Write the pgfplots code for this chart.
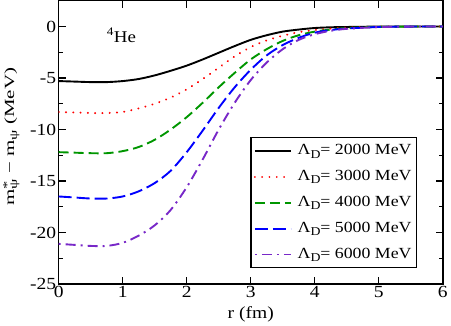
\documentclass[border=0pt]{standalone}
\usepackage{fontspec}
\setmainfont{Liberation Serif}[FakeStretch=1.15]
\newfontfamily\ylabfont{Liberation Serif}[FakeStretch=1.5]
\usepackage{pgfplots}
\pgfplotsset{compat=1.18}

\definecolor{gracegreen}{RGB}{0,150,0}
\definecolor{gracepurple}{RGB}{120,40,200}

% curves, r (fm) vs m*-m (MeV)
\pgfplotstableread{
r     l2000  l3000  l4000  l5000  l6000
0.00  -5.30  -8.30  -12.20 -16.50 -21.10
0.25  -5.35  -8.35  -12.25 -16.60 -21.20
0.50  -5.40  -8.40  -12.30 -16.70 -21.30
0.75  -5.40  -8.40  -12.30 -16.70 -21.30
1.00  -5.30  -8.30  -12.10 -16.50 -21.00
1.25  -5.10  -7.95  -11.70 -16.00 -20.30
1.50  -4.75  -7.50  -11.00 -15.20 -19.30
1.75  -4.30  -6.90  -10.00 -14.00 -17.80
2.00  -3.80  -6.10  -8.80  -12.20 -15.60
2.25  -3.20  -5.10  -7.40  -10.10 -12.90
2.50  -2.55  -4.00  -5.90  -7.90  -10.00
2.75  -1.90  -2.90  -4.50  -5.90  -7.40
3.00  -1.30  -2.00  -3.20  -4.20  -5.20
3.25  -0.85  -1.35  -2.20  -2.80  -3.50
3.50  -0.50  -0.90  -1.40  -1.80  -2.20
3.75  -0.30  -0.55  -0.85  -1.10  -1.30
4.00  -0.15  -0.35  -0.50  -0.60  -0.75
4.25  -0.08  -0.20  -0.30  -0.35  -0.42
4.50  -0.05  -0.10  -0.15  -0.20  -0.23
5.00  -0.01  -0.02  -0.04  -0.05  -0.06
5.50   0.00  -0.01  -0.01  -0.01  -0.01
6.00   0.00   0.00   0.00   0.00   0.00
}\curves

\newcommand{\LD}{Λ\raisebox{-0.45ex}{\fontsize{12}{12}\selectfont D}}

\begin{document}
\begin{tikzpicture}
\begin{axis}[
    scale only axis,
    width=385pt, height=284pt,
    xmin=0, xmax=6,
    ymin=-25, ymax=2.5,
    xtick={0,1,2,3,4,5,6},
    ytick={-25,-20,-15,-10,-5,0},
    yticklabels={-25,-20,-15,-10,-5,0},
    minor ytick={-22.5,-17.5,-12.5,-7.5,-2.5},
    tick align=inside,
    major tick length=7pt,
    minor tick length=4pt,
    tick style={black, line width=1.2pt},
    axis line style={line width=1.4pt},
    /pgf/number format/assume math mode=true,
    tick label style={font=\fontsize{17}{17}\selectfont},
    xticklabel style={yshift=1pt},
    yticklabel style={xshift=1pt},
    xlabel={r (fm)},
    ylabel={\ylabfont m\rlap{\raisebox{0.55ex}{\fontsize{11}{11}\selectfont *}}\raisebox{-0.5ex}{\fontsize{11}{11}\selectfont ψ} − m\raisebox{-0.5ex}{\fontsize{11}{11}\selectfont ψ} (MeV)},
    xlabel style={font=\fontsize{17}{17}\selectfont, at={(axis description cs:0.5,-0.106)}, anchor=center},
    ylabel style={font=\fontsize{14}{14}\selectfont, at={(axis description cs:-0.123,0.52)}, anchor=center},
    legend style={at={(axis description cs:0.499,0.518)}, anchor=north west,
        draw=black, line width=1.2pt, font=\fontsize{15.5}{15.5}\selectfont,
        nodes={inner xsep=2pt, inner ysep=1pt, text height=12pt, text depth=4pt},
        row sep=8pt, column sep=4pt, inner xsep=3pt, inner ysep=4pt},
    legend cell align=left,
    legend image code/.code={\draw[#1, line width=1.8pt] (0pt,0pt) -- (36pt,0pt);},
]
\addplot[black, line width=1.9pt, smooth] table[x=r, y=l2000] {\curves};
\addlegendentry{\LD= 2000 MeV}
\addplot[red, line width=2.1pt, smooth, dash pattern=on 0.1pt off 7.2pt, line cap=round] table[x=r, y=l3000] {\curves};
\addlegendentry{\LD= 3000 MeV}
\addplot[gracegreen, line width=1.9pt, smooth, dash pattern=on 10pt off 5pt] table[x=r, y=l4000] {\curves};
\addlegendentry{\LD= 4000 MeV}
\addplot[blue, line width=1.9pt, smooth, dash pattern=on 13pt off 5pt] table[x=r, y=l5000] {\curves};
\addlegendentry{\LD= 5000 MeV}
\addplot[gracepurple, line width=1.9pt, smooth, dash pattern=on 2pt off 5pt on 10pt off 5pt] table[x=r, y=l6000] {\curves};
\addlegendentry{\LD= 6000 MeV}
\node[font=\fontsize{16.5}{16.5}\selectfont] at (axis cs:0.98,-0.85) {\textsuperscript{4}He};
\end{axis}
\end{tikzpicture}
\end{document}
